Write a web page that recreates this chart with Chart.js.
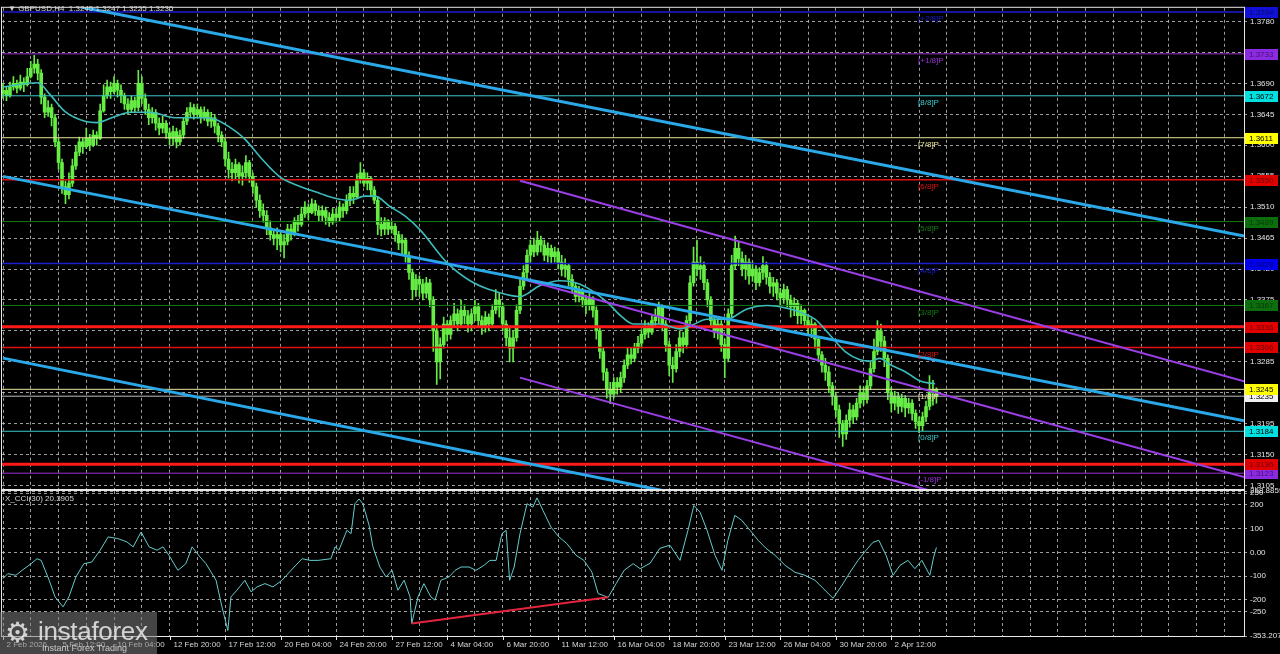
<!DOCTYPE html>
<html>
<head>
<meta charset="utf-8">
<script src="https://cdn.jsdelivr.net/npm/chart.js@4.4.1/dist/chart.umd.min.js"></script>
<style>
  body { margin: 0; background: #000; width: 1280px; height: 654px; overflow: hidden; position: relative; font-family: "Liberation Sans", Arial, sans-serif; }
  canvas { position: absolute; left: 0; top: 0; }
  .txt { position: absolute; color: #d6d6d6; font-size: 8px; white-space: pre; }
  #logo { position: absolute; left: 0; top: 612px; width: 157px; height: 42px; background: rgba(125,125,125,0.55); }
  #logo .big { position: absolute; left: 38px; top: 4px; font-size: 26px; color: rgba(235,235,235,0.85); letter-spacing: -0.3px; }
  #logo .gear { position: absolute; left: 5px; top: 4px; font-size: 28px; color: rgba(235,235,235,0.85); }
  #logo .small { position: absolute; left: 42px; top: 31px; font-size: 9px; color: rgba(230,230,230,0.8); }
</style>
</head>
<body>
<canvas id="main" width="1280" height="654"></canvas>
<canvas id="cci" width="1280" height="654"></canvas>
<div class="txt" style="left:8px;top:4px;">▼ GBPUSD,H4  1.3245 1.3247 1.3225 1.3235</div>
<div class="txt" style="left:5px;top:494px;">X_CCI(30) 20.3905</div>
<div id="logo"><span class="gear">⚙</span><span class="big">instaforex</span><span class="small">Instant Forex Trading</span></div>
<script>
// GBPUSD H4 candles, bar 0 = first visible bar (2 Feb 20:00); open = previous close
const closes = [
1.3680,1.3672,1.3685,1.3690,1.3683,1.3692,1.3688,1.3700,1.3712,1.3718,
1.3705,1.3670,1.3648,1.3655,1.3640,1.3605,1.3575,1.3540,1.3528,1.3545,
1.3570,1.3590,1.3605,1.3598,1.3610,1.3600,1.3615,1.3610,1.3650,1.3672,
1.3685,1.3678,1.3690,1.3680,1.3672,1.3660,1.3652,1.3665,1.3655,1.3690,
1.3668,1.3652,1.3640,1.3648,1.3632,1.3625,1.3632,1.3618,1.3610,1.3620,
1.3605,1.3615,1.3635,1.3648,1.3655,1.3645,1.3652,1.3640,1.3648,1.3635,
1.3640,1.3628,1.3615,1.3605,1.3580,1.3565,1.3560,1.3572,1.3555,1.3560,
1.3575,1.3555,1.3540,1.3520,1.3505,1.3498,1.3480,1.3470,1.3465,1.3470,
1.3455,1.3460,1.3478,1.3470,1.3490,1.3485,1.3500,1.3510,1.3502,1.3515,
1.3505,1.3498,1.3505,1.3495,1.3488,1.3500,1.3495,1.3510,1.3505,1.3520,
1.3530,1.3525,1.3550,1.3560,1.3545,1.3552,1.3535,1.3520,1.3485,1.3478,
1.3490,1.3478,1.3482,1.3470,1.3458,1.3462,1.3440,1.3415,1.3390,1.3405,
1.3398,1.3385,1.3400,1.3375,1.3330,1.3285,1.3310,1.3340,1.3325,1.3345,
1.3355,1.3340,1.3360,1.3352,1.3340,1.3355,1.3365,1.3345,1.3335,1.3350,
1.3340,1.3360,1.3375,1.3365,1.3340,1.3320,1.3305,1.3320,1.3360,1.3395,
1.3415,1.3440,1.3455,1.3445,1.3462,1.3455,1.3440,1.3450,1.3438,1.3445,
1.3430,1.3420,1.3425,1.3405,1.3395,1.3380,1.3388,1.3375,1.3368,1.3378,
1.3360,1.3330,1.3300,1.3270,1.3245,1.3238,1.3255,1.3248,1.3262,1.3280,
1.3295,1.3290,1.3305,1.3312,1.3325,1.3335,1.3328,1.3345,1.3350,1.3365,
1.3340,1.3310,1.3280,1.3275,1.3300,1.3320,1.3310,1.3345,1.3400,1.3430,
1.3420,1.3425,1.3400,1.3375,1.3345,1.3330,1.3340,1.3310,1.3290,1.3355,
1.3425,1.3450,1.3435,1.3420,1.3430,1.3410,1.3420,1.3400,1.3415,1.3425,
1.3408,1.3395,1.3400,1.3385,1.3378,1.3390,1.3375,1.3365,1.3370,1.3352,
1.3360,1.3345,1.3335,1.3340,1.3318,1.3295,1.3280,1.3270,1.3250,1.3235,
1.3215,1.3195,1.3180,1.3200,1.3215,1.3205,1.3225,1.3240,1.3230,1.3250,
1.3275,1.3300,1.3330,1.3315,1.3290,1.3240,1.3225,1.3235,1.3220,1.3232,
1.3218,1.3225,1.3210,1.3198,1.3192,1.3205,1.3220,1.3240,1.3245,1.3235
];
const highs = [
1.3690,1.3685,1.3692,1.3700,1.3695,1.3702,1.3698,1.3712,1.3722,1.3731,
1.3725,1.3710,1.3675,1.3665,1.3660,1.3645,1.3610,1.3580,1.3548,1.3560,
1.3580,1.3600,1.3612,1.3610,1.3625,1.3616,1.3622,1.3620,1.3660,1.3688,
1.3695,1.3692,1.3700,1.3695,1.3688,1.3676,1.3668,1.3672,1.3670,1.3709,
1.3700,1.3675,1.3660,1.3655,1.3652,1.3640,1.3642,1.3636,1.3625,1.3628,
1.3625,1.3622,1.3640,1.3655,1.3662,1.3660,1.3660,1.3656,1.3656,1.3652,
1.3648,1.3645,1.3632,1.3620,1.3610,1.3590,1.3575,1.3580,1.3575,1.3570,
1.3585,1.3578,1.3560,1.3545,1.3528,1.3515,1.3505,1.3490,1.3478,1.3480,
1.3475,1.3470,1.3485,1.3485,1.3495,1.3498,1.3510,1.3518,1.3515,1.3522,
1.3520,1.3512,1.3512,1.3510,1.3502,1.3508,1.3508,1.3518,1.3515,1.3528,
1.3540,1.3540,1.3558,1.3575,1.3565,1.3560,1.3555,1.3540,1.3525,1.3495,
1.3495,1.3492,1.3490,1.3486,1.3475,1.3470,1.3465,1.3445,1.3420,1.3412,
1.3410,1.3405,1.3408,1.3405,1.3380,1.3340,1.3320,1.3350,1.3345,1.3352,
1.3370,1.3362,1.3375,1.3368,1.3360,1.3362,1.3375,1.3370,1.3352,1.3358,
1.3355,1.3368,1.3390,1.3385,1.3370,1.3345,1.3335,1.3330,1.3368,1.3405,
1.3425,1.3448,1.3462,1.3465,1.3475,1.3468,1.3462,1.3458,1.3455,1.3452,
1.3450,1.3440,1.3435,1.3428,1.3412,1.3400,1.3395,1.3392,1.3382,1.3385,
1.3380,1.3365,1.3335,1.3305,1.3275,1.3255,1.3262,1.3262,1.3270,1.3288,
1.3305,1.3305,1.3312,1.3322,1.3332,1.3345,1.3342,1.3352,1.3362,1.3372,
1.3368,1.3345,1.3315,1.3292,1.3310,1.3330,1.3328,1.3352,1.3410,1.3452,
1.3462,1.3438,1.3430,1.3405,1.3380,1.3352,1.3348,1.3345,1.3318,1.3362,
1.3440,1.3468,1.3460,1.3445,1.3440,1.3435,1.3430,1.3425,1.3422,1.3438,
1.3430,1.3415,1.3408,1.3405,1.3392,1.3398,1.3395,1.3382,1.3378,1.3375,
1.3368,1.3362,1.3352,1.3348,1.3342,1.3322,1.3300,1.3290,1.3278,1.3255,
1.3240,1.3222,1.3200,1.3208,1.3225,1.3222,1.3232,1.3250,1.3248,1.3258,
1.3285,1.3318,1.3345,1.3340,1.3322,1.3295,1.3248,1.3242,1.3240,1.3238,
1.3236,1.3232,1.3230,1.3215,1.3205,1.3212,1.3228,1.3265,1.3258,1.3247
];
const lows = [
1.3668,1.3665,1.3670,1.3680,1.3676,1.3680,1.3678,1.3686,1.3698,1.3705,
1.3695,1.3660,1.3640,1.3642,1.3628,1.3598,1.3565,1.3530,1.3515,1.3522,
1.3540,1.3565,1.3585,1.3588,1.3595,1.3592,1.3598,1.3600,1.3608,1.3648,
1.3668,1.3668,1.3675,1.3670,1.3662,1.3652,1.3645,1.3648,1.3648,1.3650,
1.3660,1.3645,1.3630,1.3632,1.3622,1.3615,1.3618,1.3610,1.3600,1.3600,
1.3596,1.3600,1.3610,1.3630,1.3640,1.3638,1.3640,1.3632,1.3636,1.3628,
1.3626,1.3618,1.3605,1.3598,1.3570,1.3552,1.3548,1.3550,1.3545,1.3542,
1.3552,1.3546,1.3530,1.3510,1.3495,1.3488,1.3470,1.3462,1.3455,1.3448,
1.3445,1.3436,1.3455,1.3462,1.3468,1.3475,1.3482,1.3495,1.3492,1.3500,
1.3498,1.3490,1.3490,1.3485,1.3482,1.3485,1.3488,1.3490,1.3495,1.3500,
1.3512,1.3515,1.3522,1.3545,1.3540,1.3535,1.3525,1.3515,1.3470,1.3468,
1.3470,1.3470,1.3472,1.3460,1.3448,1.3440,1.3430,1.3405,1.3375,1.3380,
1.3380,1.3375,1.3378,1.3365,1.3300,1.3252,1.3260,1.3305,1.3315,1.3318,
1.3335,1.3330,1.3335,1.3340,1.3328,1.3330,1.3345,1.3335,1.3325,1.3328,
1.3330,1.3335,1.3355,1.3350,1.3330,1.3308,1.3285,1.3285,1.3315,1.3355,
1.3390,1.3405,1.3430,1.3438,1.3440,1.3445,1.3432,1.3430,1.3428,1.3430,
1.3420,1.3410,1.3408,1.3395,1.3385,1.3372,1.3372,1.3365,1.3355,1.3360,
1.3350,1.3318,1.3290,1.3258,1.3232,1.3224,1.3232,1.3238,1.3240,1.3255,
1.3275,1.3282,1.3285,1.3298,1.3305,1.3318,1.3320,1.3325,1.3335,1.3340,
1.3330,1.3300,1.3265,1.3255,1.3270,1.3292,1.3298,1.3305,1.3340,1.3395,
1.3410,1.3405,1.3390,1.3365,1.3335,1.3320,1.3318,1.3300,1.3262,1.3285,
1.3350,1.3420,1.3425,1.3410,1.3405,1.3398,1.3402,1.3390,1.3395,1.3405,
1.3398,1.3385,1.3380,1.3375,1.3368,1.3370,1.3365,1.3350,1.3352,1.3340,
1.3340,1.3335,1.3325,1.3320,1.3305,1.3285,1.3270,1.3258,1.3240,1.3222,
1.3205,1.3175,1.3162,1.3172,1.3190,1.3195,1.3200,1.3218,1.3222,1.3225,
1.3245,1.3270,1.3295,1.3300,1.3278,1.3230,1.3212,1.3215,1.3210,1.3212,
1.3205,1.3210,1.3200,1.3188,1.3182,1.3185,1.3198,1.3215,1.3222,1.3225
];
const firstOpen = 1.3675;

// moving average (bar index, price)
const maBars   = [0,10.1,13.5,17.9,23.6,27.1,32.3,36.6,42.4,49.6,56.8,61.1,65.4,69.7,74.1,79.8,85.6,91.4,95.7,100,104.3,107.2,111.5,115.9,120.2,128,134.6,140.3,149,154.8,160.5,166.3,174.1,177.8,181.6,189.3,195.1,198.8,202.9,208.6,214.4,220.2,226.8,229.7,234,238.3,242.7,247,249.9,252.7,255.6,259.9,264.3,268.6];
const maValues = [1.3685,1.3691,1.3674,1.3649,1.3635,1.3633,1.3642,1.3648,1.3648,1.3640,1.3640,1.3638,1.3626,1.3609,1.3583,1.3554,1.3540,1.3530,1.3523,1.3520,1.3526,1.3526,1.3511,1.3497,1.3477,1.3429,1.3403,1.3390,1.3380,1.3396,1.3403,1.3398,1.3372,1.3353,1.3340,1.3340,1.3333,1.3339,1.3347,1.3347,1.3362,1.3367,1.3362,1.3357,1.3347,1.3324,1.3300,1.3288,1.3286,1.3290,1.3281,1.3271,1.3257,1.3253];

// Murrey math levels
const murreyNames  = ['[+2/8]P','[+1/8]P','[8/8]P','[7/8]P','[6/8]P','[5/8]P','[4/8]P','[3/8]P','[2/8]P','[1/8]P','[0/8]P','[-1/8]P'];
const murreyLevels = [1.3794,1.3733,1.3672,1.3611,1.3550,1.3489,1.3428,1.3367,1.3306,1.3245,1.3184,1.3123];
const supportLevels = [1.3336, 1.3136];
const bidPrice = 1.3235;

// trend channels: [bar, price, bar, price]
const blueChannel = [
  [0, 1.38235, 357.64, 1.3468],
  [0, 1.35548, 357.64, 1.31993],
  [0, 1.32904, 357.64, 1.2928]
];
const purpleChannel = [
  [149, 1.35485, 357.64, 1.32568],
  [149, 1.34062, 357.64, 1.31174],
  [149, 1.32620, 357.64, 1.29720]
];

// CCI(30)
const cciBars = [0,1.4,3.7,5.5,8.1,9.8,11.0,13.3,15.0,17.3,19.0,21.0,23.3,25.6,28.0,30.3,33.1,35.7,37.5,39.8,42.1,44.4,46.1,47.8,50.4,52.7,54.5,56.8,58.5,61.4,63.1,64.8,65.7,67.4,69.7,71.5,73.2,75.5,77.8,80.4,83.9,86.2,88.5,90.8,94.5,95.7,96.8,99.1,100.3,101.4,102.6,103.7,105.5,106.6,108.6,110.4,112.1,113.8,115.6,117.3,117.8,119.6,121.3,123.3,124.5,126.2,128.5,130.3,132.0,134.3,136.3,138.6,140.3,142.1,143.8,145.0,146.0,147.3,149.0,151.0,152.7,153.9,155.6,157.9,160.2,162.5,165.1,167.4,169.7,171.5,174.4,176.7,179.0,181.6,183.6,186.5,189.3,192.2,195.1,197.4,199.1,200.9,202.9,205.2,207.2,208.9,210.9,212.9,215.3,217.6,219.9,222.5,225.4,228.2,231.1,234.0,236.9,239.2,241.8,244.1,246.4,248.7,250.7,252.4,254.5,256.5,258.5,260.8,262.8,264.8,267.1,268.2,269];
const cciValues = [-111,-90,-97,-76,-48,-27,-34,-118,-188,-230,-188,-104,-48,-41,9,65,58,44,23,86,23,9,23,-12,-76,-48,23,-20,-48,-118,-230,-330,-188,-160,-118,-167,-146,-132,-146,-118,-62,-27,-34,-34,-27,23,9,93,79,205,225,205,114,23,-62,-104,-76,-160,-118,-188,-300,-188,-132,-188,-202,-118,-104,-76,-62,-62,-76,-55,-34,-34,79,93,-118,-62,79,205,191,230,177,107,65,37,-12,-34,-83,-174,-190,-132,-76,-48,-69,-46,17,30,-34,93,198,169,93,-13,-76,51,156,135,93,51,17,-13,-55,-84,-97,-118,-160,-194,-139,-84,-34,8,42,51,-13,-97,-55,-34,-69,-34,-97,-20,20.39];
const cciDivBars = [117.8, 174.4];
const cciDivValues = [-300, -190];

// axes
const priceTicks = [1.3780,1.3735,1.3690,1.3645,1.3600,1.3555,1.3510,1.3465,1.3420,1.3375,1.3330,1.3285,1.3240,1.3195,1.3150,1.3105];
const cciTicks = [258.8859,250,200,100,0,-100,-200,-250,-353.2075];
const cciTickText = ['258.8859','250','200','100','0.00','-100','-200','-250','-353.2075'];
const timeBars = [0,16,32,48,64,80,96,112,128,144,160,176,192,208,224,240,256];
const timeLabels = ['2 Feb 2026','5 Feb 12:00','10 Feb 04:00','12 Feb 20:00','17 Feb 12:00','20 Feb 04:00','24 Feb 20:00','27 Feb 12:00','4 Mar 04:00','6 Mar 20:00','11 Mar 12:00','16 Mar 04:00','18 Mar 20:00','23 Mar 12:00','26 Mar 04:00','30 Mar 20:00','2 Apr 12:00'];

// ---- styles ----
const X_MIN = -0.29, X_MAX = 357.64;
const gridColor = 'rgba(195,195,195,0.8)';
const murreyColors = ['#1c1cd0','#9b30d8','#3cc8c8','#e8e49a','#e01010','#127a12','#1c1cd0','#127a12','#e01010','#e8e49a','#3cc8c8','#9b30d8'];
const murreyWidths = [1.5,1,1,1,1.5,1,1.5,1,1.5,1,1,1];
const boxColors    = ['#1010d8','#8a2be2','#00e0e0','#ffff00','#e00000','#0c6e0c','#0000ee','#0c6e0c','#e00000','#ffff00','#00e0e0','#8a2be2'];
const boxText      = ['#0a0a60','#4a1070','#000000','#000000','#700000','#063806','#000070','#063806','#700000','#000000','#000000','#4a1070'];
const candleColor = '#66ec44';
const font8 = { family: 'Liberation Sans', size: 8 };

const opens = closes.map((c, i) => i === 0 ? firstOpen : closes[i - 1]);
const gridBars = [];
for (let b = 0; b <= 352; b += 8) gridBars.push(b);

function hLine(v, color, width, order) {
  return { type: 'line', data: [{x: X_MIN - 5, y: v}, {x: X_MAX + 5, y: v}], borderColor: color, borderWidth: width, pointRadius: 0, order: order };
}
function segLine(s, color, width, order) {
  return { type: 'line', data: [{x: s[0], y: s[1]}, {x: s[2], y: s[3]}], borderColor: color, borderWidth: width, pointRadius: 0, order: order };
}

const xScaleCommon = {
  type: 'linear', min: X_MIN, max: X_MAX, offset: false,
  afterBuildTicks: ax => { ax.ticks = gridBars.map(v => ({ value: v })); },
  ticks: { display: false },
  grid: { color: gridColor, drawTicks: false, offset: false },
  border: { display: false, dash: [3, 3] }
};

const mainDatasets = [];
blueChannel.forEach(s => mainDatasets.push(segLine(s, '#2aa8e8', 3, 1)));
purpleChannel.forEach(s => mainDatasets.push(segLine(s, '#9a3ee6', 2, 1)));
mainDatasets.push({
  type: 'line', data: maBars.map((b, i) => ({ x: b, y: maValues[i] })),
  borderColor: '#3cbcbc', borderWidth: 1.6, pointRadius: 0, cubicInterpolationMode: 'monotone', order: 2
});
supportLevels.forEach(v => mainDatasets.push(hLine(v, '#ff1a1a', 3, 3)));
murreyLevels.forEach((v, k) => mainDatasets.push(hLine(v, murreyColors[k], murreyWidths[k], 4)));
mainDatasets.push(hLine(bidPrice, '#bdbdbd', 1, 4));
mainDatasets.push({
  type: 'bar', grouped: false, order: 5, barThickness: 3, borderWidth: 0,
  backgroundColor: candleColor,
  data: closes.map((c, i) => ({ x: i, y: [opens[i], c] }))
});
mainDatasets.push({
  type: 'bar', grouped: false, order: 6, barThickness: 1, borderWidth: 0,
  backgroundColor: candleColor,
  data: closes.map((c, i) => ({ x: i, y: [lows[i], highs[i]] }))
});

const mainOverlay = {
  id: 'mainOverlay',
  afterDraw(chart) {
    const { ctx, chartArea: a, scales: { x, y } } = chart;
    ctx.save();
    ctx.strokeStyle = '#e6e6e6';
    ctx.lineWidth = 1;
    ctx.strokeRect(a.left - 0.5, a.top - 0.5, a.right - a.left + 1, a.bottom - a.top + 1);
    ctx.font = '8px "Liberation Sans"';
    ctx.textBaseline = 'middle';
    const lx = x.getPixelForValue(263.7);
    murreyLevels.forEach((v, k) => {
      ctx.fillStyle = murreyColors[k];
      ctx.fillText(murreyNames[k], lx, y.getPixelForValue(v) + 7);
    });
    const box = (v, bg, fg) => {
      const py = Math.round(y.getPixelForValue(v));
      ctx.fillStyle = bg;
      ctx.fillRect(a.right + 1, py - 5, 33, 11);
      ctx.fillStyle = fg;
      ctx.fillText(v.toFixed(4), a.right + 5, py + 0.5);
    };
    box(bidPrice, '#f0f0f0', '#000');
    murreyLevels.forEach((v, k) => box(v, boxColors[k], boxText[k]));
    supportLevels.forEach(v => box(v, '#e00000', '#700000'));
    ctx.restore();
  }
};

new Chart(document.getElementById('main'), {
  type: 'line',
  data: { datasets: mainDatasets },
  options: {
    responsive: false, animation: false, events: [],
    layout: { autoPadding: false, padding: { left: 2, top: 2, right: 0, bottom: 165 } },
    plugins: { legend: { display: false }, tooltip: { enabled: false } },
    scales: {
      x: Object.assign({}, xScaleCommon, { afterFit: s => { s.height = 0; } }),
      y: {
        type: 'linear', position: 'right', min: 1.3100, max: 1.3800,
        afterBuildTicks: ax => { ax.ticks = priceTicks.map(v => ({ value: v })); },
        afterFit: s => { s.width = 36; },
        ticks: { autoSkip: false, color: '#e4e4e4', font: font8, padding: 3, callback: v => v.toFixed(4) },
        grid: { color: gridColor, tickLength: 3 },
        border: { display: false, dash: [3, 3] }
      }
    }
  },
  plugins: [mainOverlay]
});

const cciOverlay = {
  id: 'cciOverlay',
  afterDraw(chart) {
    const { ctx, chartArea: a, scales: { x } } = chart;
    ctx.save();
    ctx.strokeStyle = '#e6e6e6';
    ctx.lineWidth = 1;
    ctx.strokeRect(a.left - 0.5, a.top - 0.5, a.right - a.left + 1, a.bottom - a.top + 1);
    ctx.font = '8px "Liberation Sans"';
    ctx.textBaseline = 'middle';
    ctx.fillStyle = '#d6d6d6';
    timeBars.forEach((b, k) => {
      const px = Math.round(x.getPixelForValue(b)) + 0.5;
      ctx.beginPath();
      ctx.moveTo(px, a.bottom);
      ctx.lineTo(px, a.bottom + 4);
      ctx.stroke();
      ctx.fillText(timeLabels[k], px + 3, a.bottom + 9);
    });
    ctx.restore();
  }
};

new Chart(document.getElementById('cci'), {
  type: 'line',
  data: {
    datasets: [
      { data: cciDivBars.map((b, i) => ({ x: b, y: cciDivValues[i] })), borderColor: '#e3243c', borderWidth: 2, pointRadius: 0, order: 1 },
      { data: cciBars.map((b, i) => ({ x: b, y: cciValues[i] })), borderColor: '#66cccc', borderWidth: 1, pointRadius: 0, order: 2 }
    ]
  },
  options: {
    responsive: false, animation: false, events: [],
    layout: { autoPadding: false, padding: { left: 2, top: 491, right: 0, bottom: 0 } },
    plugins: { legend: { display: false }, tooltip: { enabled: false } },
    scales: {
      x: Object.assign({}, xScaleCommon, { afterFit: s => { s.height = 18; } }),
      y: {
        type: 'linear', position: 'right', min: -353.2075, max: 258.8859,
        afterBuildTicks: ax => { ax.ticks = cciTicks.map(v => ({ value: v })); },
        afterFit: s => { s.width = 36; },
        ticks: { autoSkip: false, color: '#e4e4e4', font: font8, padding: 3, callback: (v, i) => cciTickText[i] },
        grid: { color: gridColor, tickLength: 3 },
        border: { display: false, dash: [3, 3] }
      }
    }
  },
  plugins: [cciOverlay]
});
</script>
</body>
</html>
